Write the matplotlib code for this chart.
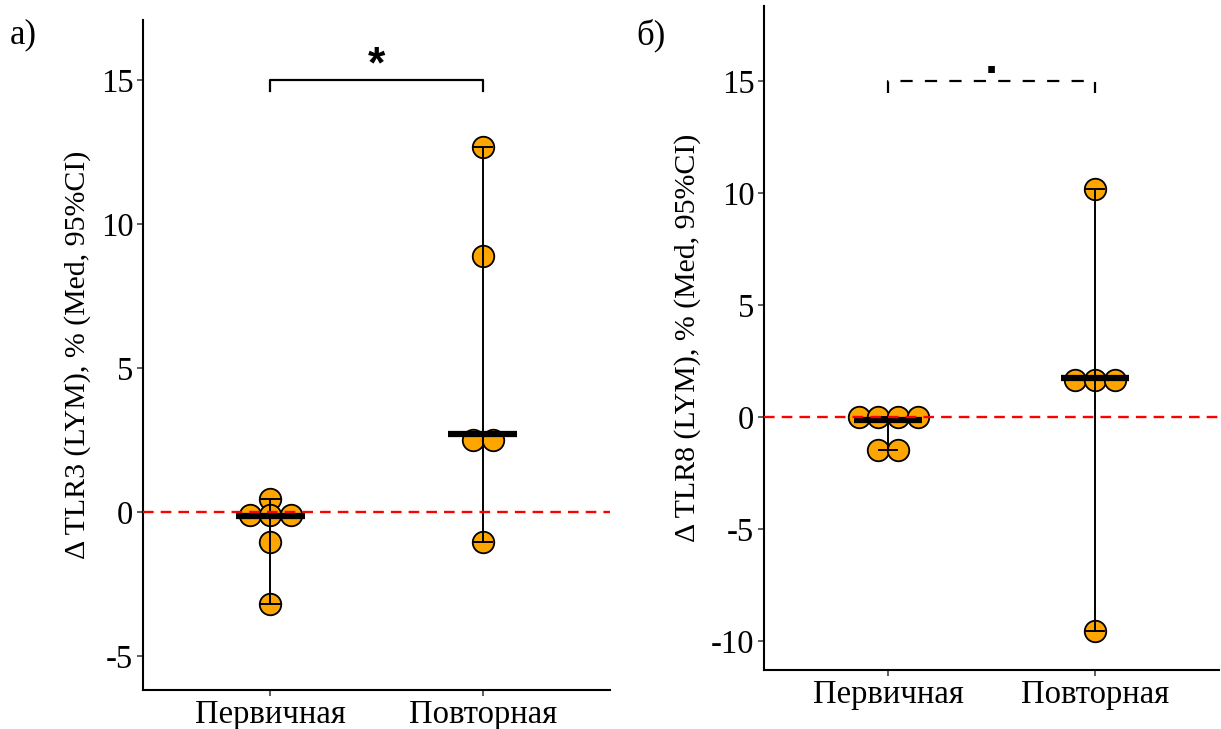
import numpy as np
import matplotlib.pyplot as plt

plt.rcParams["font.family"] = ["Liberation Serif", "DejaVu Serif"]

# данные
groups = ["Первичная", "Повторная"]

tlr3_prim = [0.45, -0.1, -0.1, -0.1, -1.05, -3.2]
tlr3_rep = [12.7, 8.9, 2.5, 2.5, -1.05]
tlr3_med = [-0.15, 2.7]

tlr8_prim = [0.0, 0.0, 0.0, 0.0, -1.47, -1.47]
tlr8_rep = [10.2, 1.65, 1.65, 1.65, -9.55]
tlr8_med = [-0.15, 1.75]

W, H = 1221, 729
fig = plt.figure(figsize=(W / 100, H / 100), dpi=100)
ax1 = fig.add_axes([143 / W, 1 - 690 / H, 467 / W, 670 / H])
ax2 = fig.add_axes([764 / W, 1 - 670 / H, 455 / W, 664 / H])

FS = 23.5
DOT_STEP = 0.095


def dot_offsets(vals):
    # раскладка точек с одинаковыми значениями в ряд (как geom_dotplot)
    vals = np.asarray(vals)
    off = np.zeros(len(vals))
    for v in np.unique(vals):
        idx = np.where(vals == v)[0]
        n = len(idx)
        off[idx] = (np.arange(n) - (n - 1) / 2) * DOT_STEP
    return off


def panel(ax, data, meds, ylim, yticks, ylabel):
    for i, vals in enumerate(data):
        x = i + 1
        ax.scatter(x + dot_offsets(vals), vals, s=240, c="#FFA500",
                   edgecolors="black", linewidths=1.3, zorder=2)
        lo, hi = min(vals), max(vals)
        ax.plot([x, x], [lo, hi], color="black", lw=1.4, zorder=3)
        for v in (lo, hi):
            ax.plot([x - 0.045, x + 0.045], [v, v], color="black", lw=1.4, zorder=3)
        ax.plot([x - 0.163, x + 0.163], [meds[i], meds[i]], color="black",
                lw=4.5, solid_capstyle="butt", zorder=4)
    ax.axhline(0, color="red", lw=1.7, ls=(0, (4.5, 3)), zorder=5)
    ax.set_xlim(0.4, 2.6)
    ax.set_ylim(*ylim)
    ax.set_xticks([1, 2])
    ax.set_xticklabels(groups, fontsize=FS)
    ax.set_yticks(yticks)
    ax.set_yticklabels([str(t) for t in yticks], fontsize=FS)
    ax.set_ylabel(ylabel, fontsize=21.5, labelpad=7)
    for s in ("top", "right"):
        ax.spines[s].set_visible(False)
    for s in ("left", "bottom"):
        ax.spines[s].set_linewidth(1.5)
    ax.tick_params(length=4, width=1.1, color="#333333", pad=3)


panel(ax1, [tlr3_prim, tlr3_rep], tlr3_med, (-6.19, 17.1), [-5, 0, 5, 10, 15],
      "Δ TLR3 (LYM), % (Med, 95%CI)")
panel(ax2, [tlr8_prim, tlr8_rep], tlr8_med, (-11.3, 18.35), [-10, -5, 0, 5, 10, 15],
      "Δ TLR8 (LYM), % (Med, 95%CI)")

# значимость
ax1.plot([1, 1, 2, 2], [14.62, 15, 15, 14.62], color="black", lw=1.6)
ax1.text(1.5, 14.8, "*", ha="center", va="bottom", fontsize=32,
         fontweight="bold", family="Liberation Sans")
ax2.plot([1, 1, 2, 2], [14.46, 15, 15, 14.46], color="black", lw=1.6,
         ls=(0, (5.5, 5.5)))
ax2.text(1.5, 15.38, ".", ha="center", va="baseline", fontsize=34,
         fontweight="bold", family="Liberation Sans")

fig.text(10 / W, 1 - 35 / H, "а)", fontsize=25, va="center", ha="left")
fig.text(636 / W, 1 - 35 / H, "б)", fontsize=25, va="center", ha="left")

plt.savefig("out.png", dpi=100)
